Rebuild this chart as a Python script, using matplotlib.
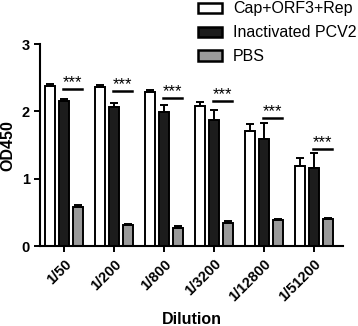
import numpy as np
import matplotlib
matplotlib.use("Agg")
import matplotlib.pyplot as plt

plt.rcParams["font.family"] = ["Liberation Sans", "DejaVu Sans"]

# Data
dilutions = ["1/50", "1/200", "1/800", "1/3200", "1/12800", "1/51200"]
cap_orf3_rep = [2.38, 2.37, 2.29, 2.08, 1.71, 1.19]
cap_orf3_rep_err = [0.02, 0.02, 0.03, 0.06, 0.11, 0.12]
inactivated = [2.15, 2.07, 1.99, 1.88, 1.59, 1.16]
inactivated_err = [0.03, 0.05, 0.10, 0.14, 0.24, 0.22]
pbs = [0.58, 0.32, 0.28, 0.35, 0.39, 0.40]
pbs_err = [0.03, 0.02, 0.02, 0.02, 0.02, 0.02]
sig_height = [2.33, 2.31, 2.20, 2.16, 1.91, 1.45]

x = np.arange(len(dilutions))
pitch = 0.28
width = 0.21

fig = plt.figure(figsize=(3.58, 3.26), dpi=100)
ax = fig.add_axes([0.112, 0.244, 0.846, 0.621])

series = [
    (cap_orf3_rep, cap_orf3_rep_err, "white", "Cap+ORF3+Rep"),
    (inactivated, inactivated_err, "#1c1c1c", "Inactivated PCV2"),
    (pbs, pbs_err, "#9a9a9a", "PBS"),
]
for k, (vals, errs, col, lab) in enumerate(series):
    pos = x + (k - 1) * pitch
    ax.bar(pos, vals, width, color=col, edgecolor="black", linewidth=1.4, label=lab, zorder=2)
    ax.errorbar(pos, vals, yerr=[np.zeros(len(errs)), errs], fmt="none",
                ecolor="black", elinewidth=1.4, capsize=3, capthick=1.4, zorder=3)

# significance marks between inactivated and PBS
for i, h in enumerate(sig_height):
    ax.plot([x[i] - 0.02, x[i] + pitch + 0.08], [h, h], color="black", lw=1.8)
    ax.text(x[i] + pitch / 2 + 0.03, h - 0.02, "***", ha="center", va="bottom", fontsize=12)

ax.set_xlim(-0.48, 5.58)
ax.set_ylim(0, 3)
ax.set_yticks([0, 1, 2, 3])
ax.set_xticks(x)
ax.set_xticklabels(dilutions, rotation=45, ha="right", rotation_mode="anchor",
                   fontsize=10.5, fontweight="bold")
for t in ax.get_yticklabels():
    t.set_fontsize(10.5)
    t.set_fontweight("bold")
ax.tick_params(width=1.4, length=4, direction="out")
for s in ["top", "right"]:
    ax.spines[s].set_visible(False)
for s in ["left", "bottom"]:
    ax.spines[s].set_linewidth(1.5)

ax.set_ylabel("OD450", fontsize=11.5, fontweight="bold", labelpad=4)
ax.set_xlabel("Dilution", fontsize=11.5, fontweight="bold", labelpad=6)

leg = fig.legend(loc="upper left", bbox_to_anchor=(0.535, 1.015), frameon=False,
                 fontsize=11.5, handlelength=1.5, handleheight=0.6, labelspacing=0.55,
                 handletextpad=0.7, borderaxespad=0)
for p in leg.get_patches():
    p.set_linewidth(1.8)

fig.savefig("out.png", dpi=100)
